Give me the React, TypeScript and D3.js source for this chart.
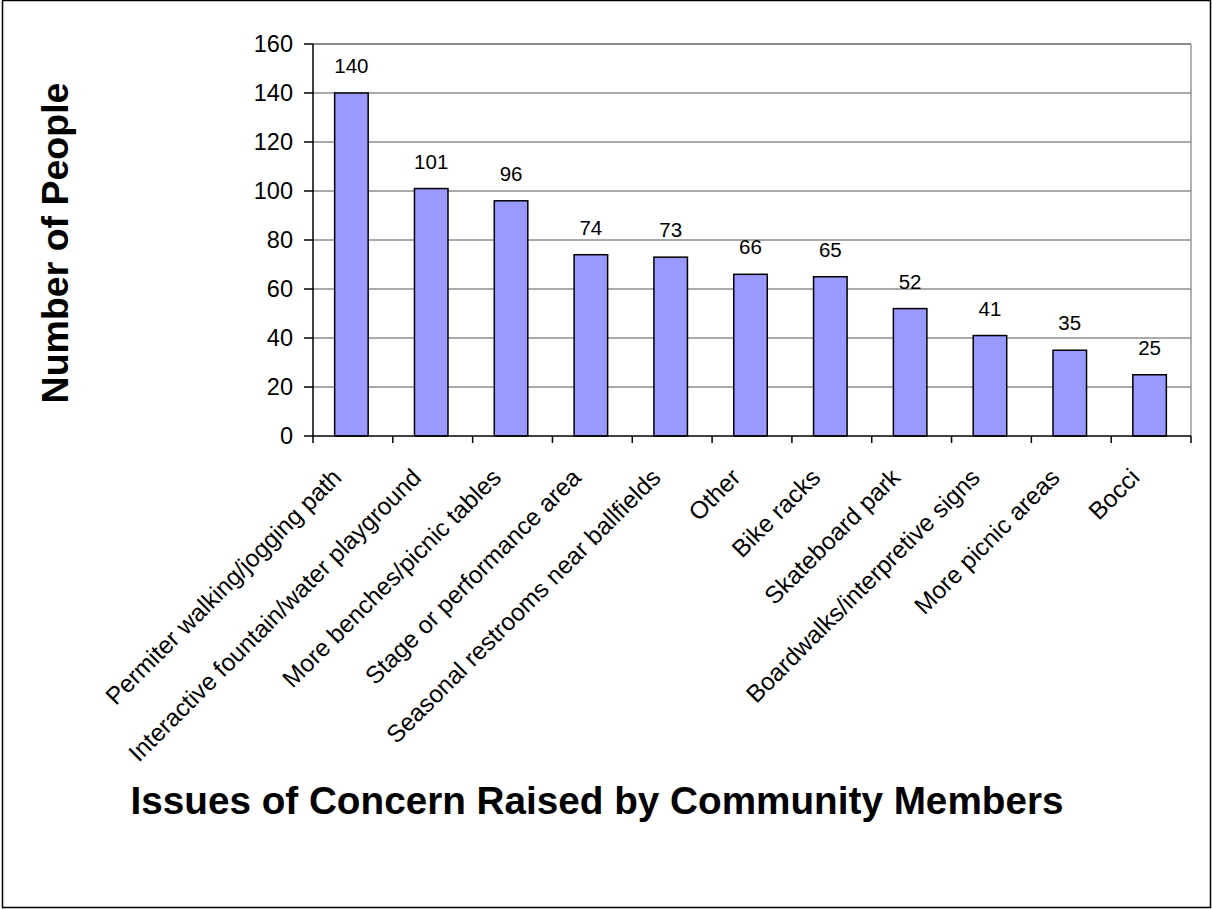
import React from "react";
import * as d3 from "d3";

const categories = [
  "Permiter walking/jogging path",
  "Interactive fountain/water playground",
  "More benches/picnic tables",
  "Stage or performance area",
  "Seasonal restrooms near ballfields",
  "Other",
  "Bike racks",
  "Skateboard park",
  "Boardwalks/interpretive signs",
  "More picnic areas",
  "Bocci",
];
const values = [140, 101, 96, 74, 73, 66, 65, 52, 41, 35, 25];
const yTicks = [0, 20, 40, 60, 80, 100, 120, 140, 160];
const yTitle = "Number of People";
const xTitle = "Issues of Concern Raised by Community Members";

const W = 1212;
const H = 909;
const left = 313;
const right = 1191;
const top = 44;
const bottom = 436;
const font = "Arial, 'Liberation Sans', sans-serif";

export default function App() {
  const x = d3.scaleBand<string>().domain(categories).range([left, right]).paddingInner(0).paddingOuter(0);
  const y = d3.scaleLinear().domain([0, 160]).range([bottom, top]);
  const bw = x.bandwidth() * 0.42;
  const bounds = [...categories.map((c) => x(c) as number), right];

  return (
    <svg
      width={W}
      height={H}
      style={{ position: "absolute", left: 0, top: 0, background: "#fff" }}
      fontFamily={font}
    >
      <rect x={2.5} y={0.5} width={1208} height={907} fill="#fff" stroke="#000" strokeWidth={1.5} />
      {yTicks.filter((t) => t > 0).map((t) => (
        <line key={"g" + t} x1={left} x2={right} y1={y(t)} y2={y(t)} stroke="#555" strokeWidth={1} />
      ))}
      <line x1={left} x2={right} y1={top} y2={top} stroke="#808080" strokeWidth={1.5} />
      <line x1={right} x2={right} y1={top} y2={bottom} stroke="#999" strokeWidth={1.5} />
      {categories.map((c, i) => {
        const cx = (x(c) as number) + x.bandwidth() / 2 - 1.5;
        return (
          <g key={"b" + i}>
            <rect
              x={cx - bw / 2}
              y={y(values[i])}
              width={bw}
              height={y(0) - y(values[i])}
              fill="#9999FF"
              stroke="#000"
              strokeWidth={1.5}
            />
            <text x={cx} y={y(values[i]) - 20} textAnchor="middle" fontSize={20.5} fill="#000">
              {values[i]}
            </text>
          </g>
        );
      })}
      <line x1={left} x2={left} y1={top} y2={bottom} stroke="#000" strokeWidth={1.5} />
      <line x1={left} x2={right} y1={bottom} y2={bottom} stroke="#000" strokeWidth={1.5} />
      {yTicks.map((t) => (
        <g key={"t" + t}>
          <line x1={left - 9} x2={left} y1={y(t)} y2={y(t)} stroke="#000" strokeWidth={1.5} />
          <text x={left - 20} y={y(t)} dy="0.36em" textAnchor="end" fontSize={23.5} fill="#000">
            {t}
          </text>
        </g>
      ))}
      {bounds.map((b, i) => (
        <line key={"xt" + i} x1={b} x2={b} y1={bottom} y2={bottom + 7} stroke="#000" strokeWidth={1.5} />
      ))}
      {categories.map((c, i) => {
        const cx = (x(c) as number) + x.bandwidth() / 2 - 10;
        const cy = 479;
        return (
          <text
            key={"l" + i}
            transform={`translate(${cx},${cy}) rotate(-45)`}
            textAnchor="end"
            fontSize={24.5}
            fill="#000"
          >
            {c}
          </text>
        );
      })}
      <text
        transform={`translate(68,243) rotate(-90)`}
        textAnchor="middle"
        fontSize={37.5}
        fontWeight="bold"
        fill="#000"
      >
        {yTitle}
      </text>
      <text x={597} y={814} textAnchor="middle" fontSize={38.7} fontWeight="bold" fill="#000">
        {xTitle}
      </text>
    </svg>
  );
}
